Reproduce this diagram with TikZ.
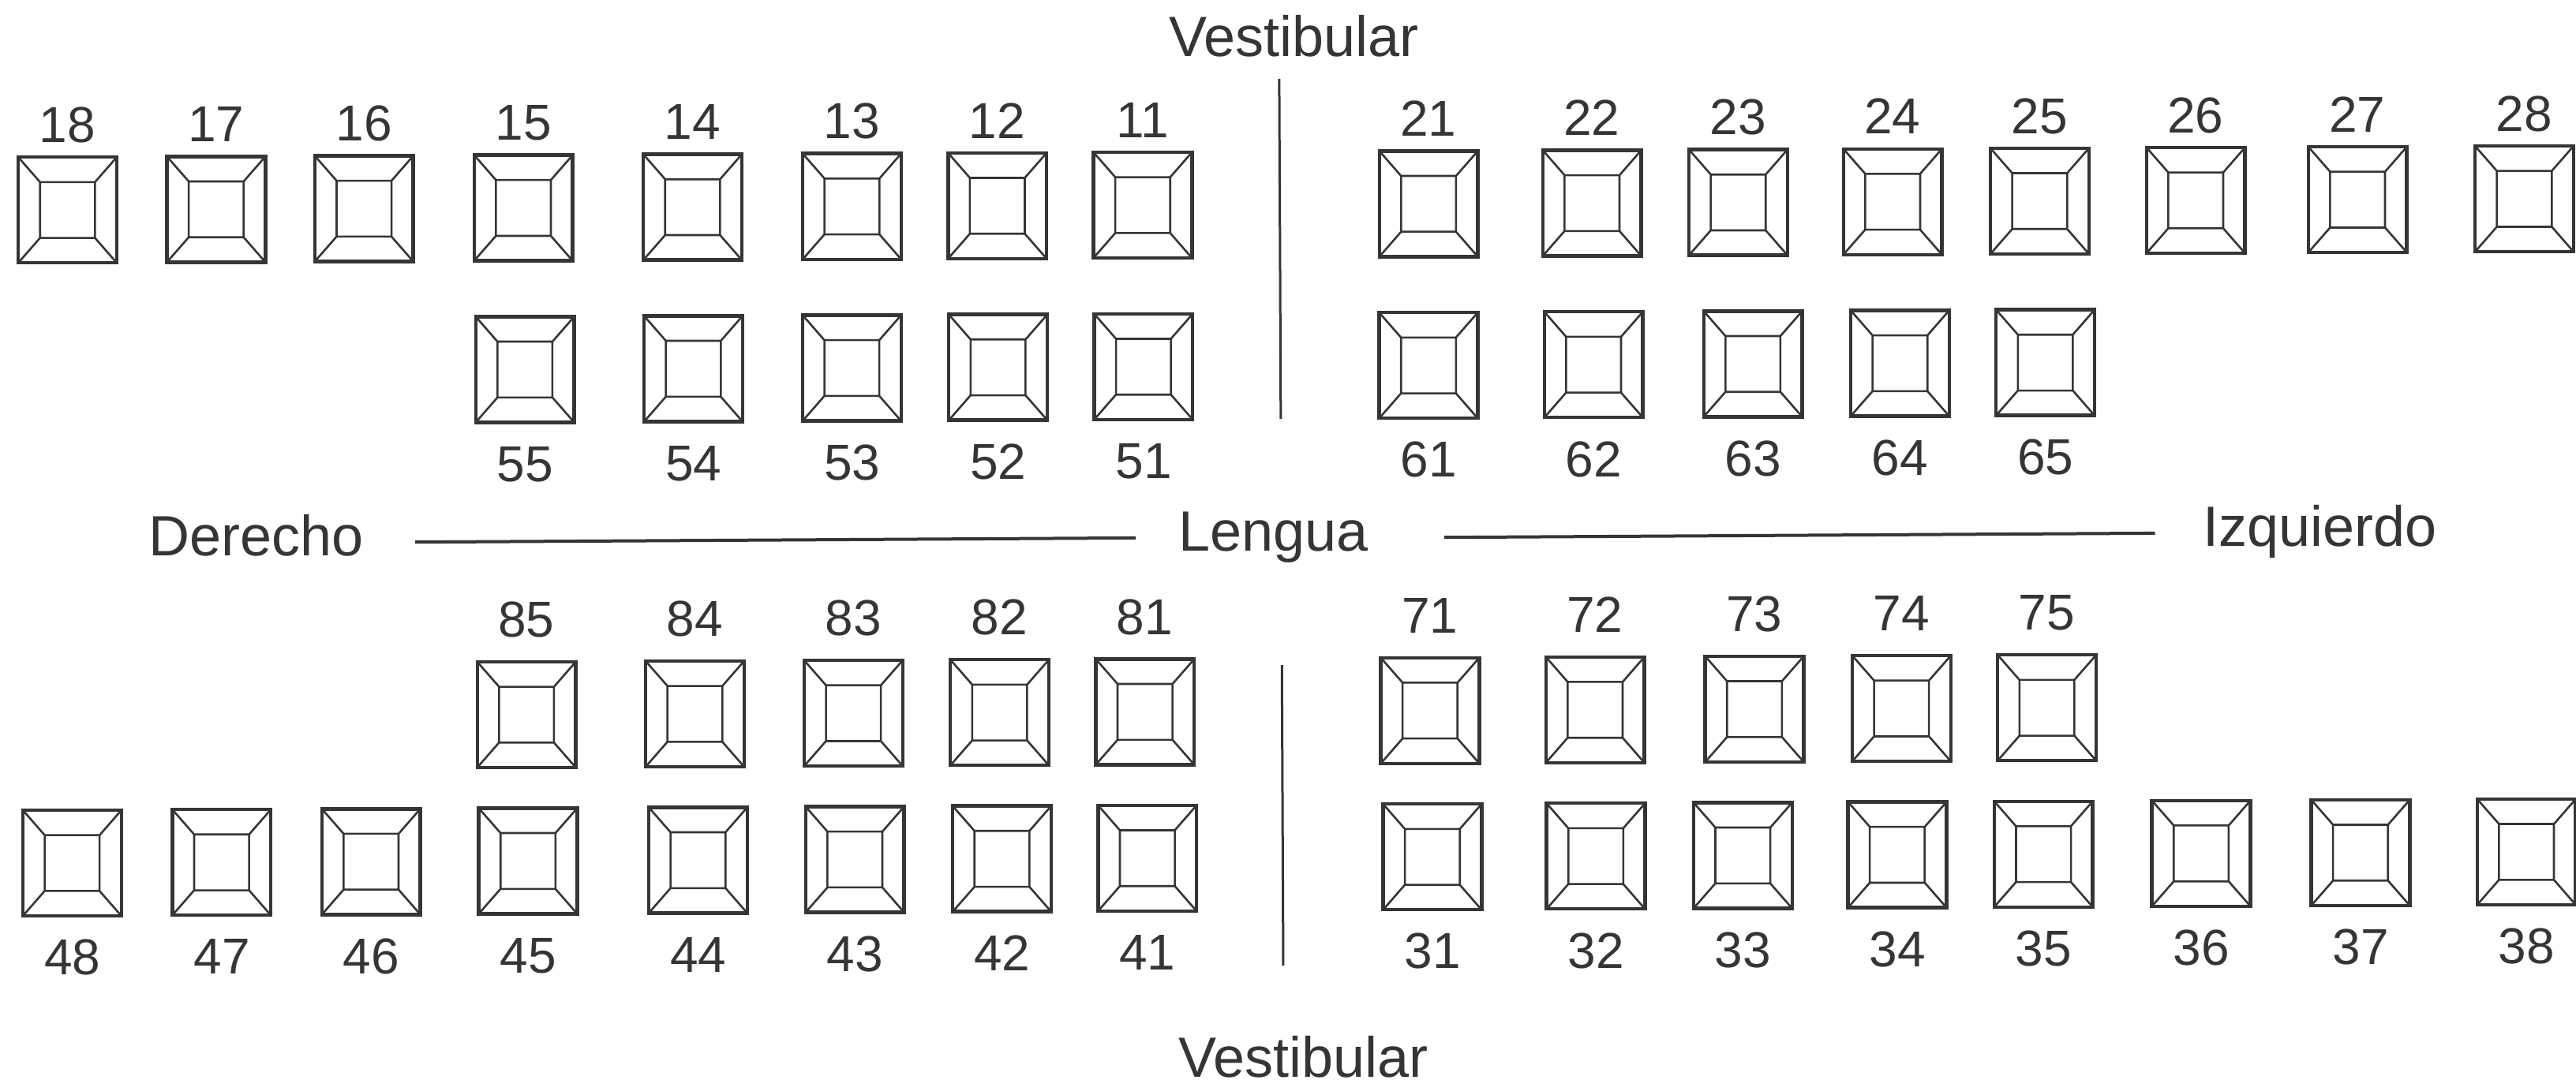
\documentclass[tikz,border=0pt]{standalone}
\usepackage{fontspec}
\setmainfont{Liberation Sans}
\definecolor{ink}{HTML}{353535}
\tikzset{
  tooth/.style={draw=ink, line width=1.1pt, minimum width=31.2pt, minimum height=33.5pt,
    inner sep=0pt, outer sep=0pt,
    path picture={
      \draw[ink, line width=0.65pt]
        ([shift={(6.9pt,-7.9pt)}]path picture bounding box.north west) rectangle
        ([shift={(-6.9pt,7.9pt)}]path picture bounding box.south east)
        (path picture bounding box.north west) -- ([shift={(6.9pt,-7.9pt)}]path picture bounding box.north west)
        (path picture bounding box.north east) -- ([shift={(-6.9pt,-7.9pt)}]path picture bounding box.north east)
        (path picture bounding box.south west) -- ([shift={(6.9pt,7.9pt)}]path picture bounding box.south west)
        (path picture bounding box.south east) -- ([shift={(-6.9pt,7.9pt)}]path picture bounding box.south east);
    }},
  num/.style={font=\fontsize{16}{19}\selectfont, text=ink, inner sep=0pt, anchor=base},
  word/.style={font=\fontsize{18}{21}\selectfont, text=ink, inner sep=0pt, anchor=base},
  midline/.style={draw=ink, line width=1pt},
  divline/.style={draw=ink, line width=0.75pt},
}
\begin{document}
\begin{tikzpicture}[x=0.5204pt, y=-0.5204pt]
\useasboundingbox (0,0) rectangle (1568,664);
\begin{scope}[rotate around={0.26:(784,332)}]
% upper permanent row (above labels)
\foreach \n/\x in {18/42,17/132.5,16/222.5,15/319.5,14/422.5,13/519.5,12/608,11/696.5,
                   21/870.5,22/970,23/1059,24/1153,25/1242.5,26/1337.5,27/1436,28/1537.5}{
  \node[tooth] (t\n) at (\x,124.5) {};
  \node[num] (l\n) at ([yshift=4.7pt]t\n.north) {\n};
}
% upper primary row (below labels)
\foreach \n/\x in {55/320,54/422.5,53/519,52/608,51/696.5,
                   61/870,62/970.5,63/1067.5,64/1157,65/1245.5}{
  \node[tooth] (t\n) at (\x,222.9) {};
  \node[num] (l\n) at ([yshift=-18.7pt]t\n.south) {\n};
}
% lower primary row (above labels)
\foreach \n/\x in {85/320,84/422.5,83/519,82/608,81/696.5,
                   71/870,72/970.5,73/1067.5,74/1157,75/1245.5}{
  \node[tooth] (t\n) at (\x,433.1) {};
  \node[num] (l\n) at ([yshift=7.8pt]t\n.north) {\n};
}
% lower permanent row (below labels)
\foreach \n/\x in {48/43,47/134,46/225,45/320.5,44/424,43/519.5,42/609,41/697.5,
                   31/871,32/970.5,33/1060,34/1154,35/1243,36/1339,37/1436,38/1537}{
  \node[tooth] (t\n) at (\x,522.2) {};
  \node[num] (l\n) at ([yshift=-18.7pt]t\n.south) {\n};
}
% words
\node[word] (vtop) at (789,34.4) {Vestibular};
\node[word] (vbot) at (792,656) {Vestibular};
\node[word] (der) at (155.7,335.5) {Derecho};
\node[word] (len) at (775.3,335.5) {Lengua};
\node[word] (izq) at (1412,335.5) {Izquierdo};
\draw[midline] ([shift={(16.3pt,4.2pt)}]der.base east) -- ([shift={(-13.5pt,4.2pt)}]len.base west);
\draw[midline] ([shift={(23.8pt,4.2pt)}]len.base east) -- ([shift={(-14.9pt,4.2pt)}]izq.base west);
% midline dividers
\coordinate (d1) at (780,48);
\coordinate (d2) at (780,255);
\coordinate (d3) at (780,405);
\coordinate (d4) at (780,588);
\draw[divline] (d1) -- (d2);
\draw[divline] (d3) -- (d4);
\end{scope}
\end{tikzpicture}
\end{document}
